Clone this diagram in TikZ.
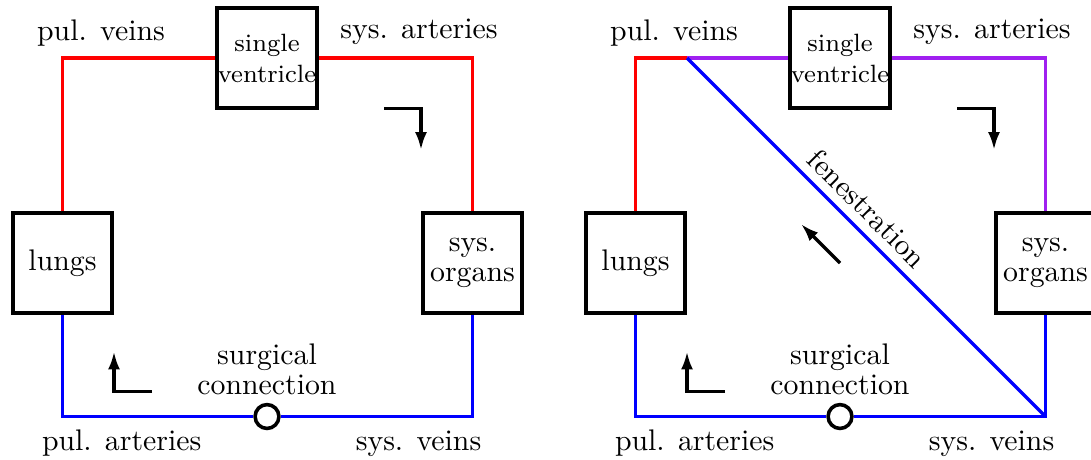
\documentclass[tikz,border=0pt]{standalone}
\usetikzlibrary{arrows.meta}
\definecolor{vpurple}{RGB}{160,32,240}
\begin{document}
\begin{tikzpicture}[x=0.3356pt,y=-0.3356pt,
  organ/.style={draw,line width=1.2pt,minimum size=33.4pt,inner sep=0pt,align=center,font=\fontsize{10}{10}\selectfont},
  heart/.style={organ,font=\fontsize{8.4}{10.4}\selectfont},
  vessel/.style={line width=1.1pt},
  flow/.style={line width=1.1pt,-{Latex[length=6pt,width=4pt]}},
  lbl/.style={anchor=base,inner sep=0pt},
  two/.style={align=center,inner sep=0pt,font=\fontsize{10}{10}\selectfont},
  junction/.style={circle,draw,fill=white,line width=1.2pt,minimum size=8pt,inner sep=0pt}]
\useasboundingbox (0,0) rectangle (1091,459);

% ---------- left diagram ----------
\node[organ] (lungA) at (62.5,263) {lungs};
\node[heart] (ventA) at (267,58) {single\\ventricle};
\node[organ] (orgA) at (472.5,263) {sys.\\organs};
\node[junction] (connA) at (267,416.5) {};
\coordinate (tlA) at (62.5,58);
\coordinate (jA) at (114,58);
\coordinate (trA) at (472.5,58);
\coordinate (blA) at (62.5,416.5);
\coordinate (brA) at (472.5,416.5);
\draw[vessel,red] (lungA.north) -- (tlA) -- (jA) -- (ventA.west);
\draw[vessel,red] (ventA.east) -- (trA) -- (orgA.north);
\draw[vessel,blue] (lungA.south) -- (blA) -- (connA.west);
\draw[vessel,blue] (connA.east) -- (brA) -- (orgA.south);
\node[lbl] (pvA) at (101,40.7) {pul. veins};
\node[lbl] (saA) at (419,38.5) {sys. arteries};
\node[lbl] (paA) at (121.7,450) {pul. arteries};
\node[lbl] (svA) at (418.5,450) {sys. veins};
\node[two] (scA) at (267,369.7) {surgical\\connection};
\coordinate (a1s) at (384,108.5);
\coordinate (a1c) at (421,108.5);
\coordinate (a1e) at (421,150);
\draw[flow] (a1s) -- (a1c) -- (a1e);
\coordinate (a2s) at (152,391.5);
\coordinate (a2c) at (114,391.5);
\coordinate (a2e) at (114,351.5);
\draw[flow] (a2s) -- (a2c) -- (a2e);

% ---------- right diagram ----------
\node[organ] (lungB) at (635.5,263) {lungs};
\node[heart] (ventB) at (840,58) {single\\ventricle};
\node[organ] (orgB) at (1045.5,263) {sys.\\organs};
\node[junction] (connB) at (840,416.5) {};
\coordinate (tlB) at (635.5,58);
\coordinate (jB) at (687,58);
\coordinate (trB) at (1045.5,58);
\coordinate (blB) at (635.5,416.5);
\coordinate (brB) at (1045.5,416.5);
\draw[vessel,red] (lungB.north) -- (tlB) -- (jB);
\draw[vessel,vpurple] (jB) -- (ventB.west);
\draw[vessel,vpurple] (ventB.east) -- (trB) -- (orgB.north);
\draw[vessel,blue] (lungB.south) -- (blB) -- (connB.west);
\draw[vessel,blue] (connB.east) -- (brB) -- (orgB.south);
\draw[vessel,blue] (jB) -- (brB);
\node[lbl] (pvB) at (674,40.7) {pul. veins};
\node[lbl] (saB) at (992,38.5) {sys. arteries};
\node[lbl] (paB) at (694.7,450) {pul. arteries};
\node[lbl] (svB) at (991.5,450) {sys. veins};
\node[two] (scB) at (840,369.7) {surgical\\connection};
\node[rotate=-45,inner sep=0pt] (fen) at (867.5,208.5) {fenestration};
\coordinate (b1s) at (957,108.5);
\coordinate (b1c) at (994,108.5);
\coordinate (b1e) at (994,150);
\draw[flow] (b1s) -- (b1c) -- (b1e);
\coordinate (b2s) at (725,391.5);
\coordinate (b2c) at (687,391.5);
\coordinate (b2e) at (687,351.5);
\draw[flow] (b2s) -- (b2c) -- (b2e);
\coordinate (b3s) at (840,263);
\coordinate (b3e) at (801,224);
\draw[flow] (b3s) -- (b3e);
\end{tikzpicture}
\end{document}
